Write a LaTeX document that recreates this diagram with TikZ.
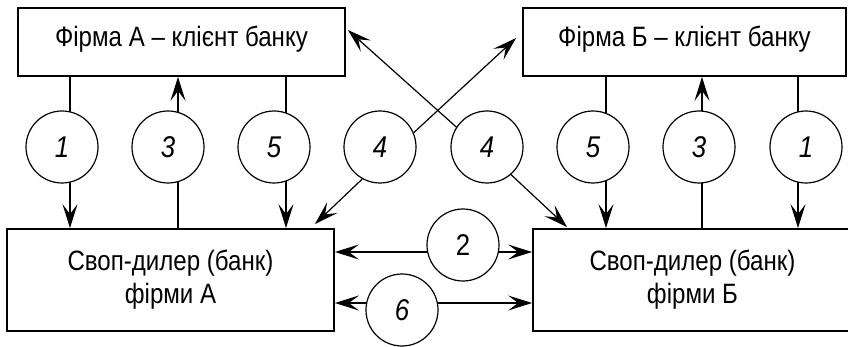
\documentclass[tikz,border=0pt]{standalone}
\usepackage{fontspec}
\setmainfont{Liberation Sans}[FakeStretch=0.86]
\usepackage{tikz}
\usetikzlibrary{arrows.meta}
\usetikzlibrary{positioning}
\tikzstyle{firm}=[draw,rectangle,line width=1.8pt,inner sep=0pt,align=center,font=\fontsize{28}{33}\selectfont]
\tikzstyle{num}=[draw,fill=white,circle,minimum size=72pt,inner sep=0pt,font=\fontsize{30}{30}\selectfont\itshape]

\begin{document}
\begin{tikzpicture}[x=1pt,y=-1pt,line width=1.2pt,>={Stealth[length=24pt,width=15pt,inset=10pt]}]
\useasboundingbox (0,0) rectangle (848,347);
% clients on top, dealers below
\node [firm,minimum width=327pt,minimum height=68pt,text depth=12pt] (fa) at (181.5,42) {Фірма А – клієнт банку};
\node [firm,minimum width=323pt,minimum height=68pt,text depth=12pt] (fb) at (684.5,42) {Фірма Б – клієнт банку};
\node [firm,minimum width=327pt,minimum height=102pt] (da) at (170.5,280) {Своп-дилер (банк)\\фірми А};
\node [firm,minimum width=319pt,minimum height=102pt] (db) at (692.5,280) {Своп-дилер (банк)\\фірми Б};

% where the vertical flows run
\coordinate (la1) at (70,0);
\coordinate (la3) at (178,0);
\coordinate (la5) at (286,0);
\coordinate (lb5) at (606,0);
\coordinate (lb3) at (702,0);
\coordinate (lb1) at (798,0);

\draw[->] (fa.south -| la1) -- (da.north -| la1);
\draw[<-] (fa.south -| la3) -- (da.north -| la3);
\draw[->] (fa.south -| la5) -- (da.north -| la5);
\draw[->] (fb.south -| lb5) -- (db.north -| lb5);
\draw[<-] (fb.south -| lb3) -- (db.north -| lb3);
\draw[->] (fb.south -| lb1) -- (db.north -| lb1);

% between the two dealers
\draw[<->] ([yshift=28pt]da.east) -- ([yshift=28pt]db.west);
\draw[<->] ([yshift=-23pt]da.east) -- ([yshift=-23pt]db.west);

% step numbers
\node [num] (a1) at (62,147) {1};
\node [num] (a3) at (168,147) {3};
\node [num] (a5) at (274,147) {5};
\node [num] (c4a) at (380,147) {4};
\node [num] (c4b) at (487,147) {4};
\node [num] (b5) at (593,147) {5};
\node [num] (b3) at (699,147) {3};
\node [num] (b1) at (806,147) {1};
\node [num,font=\fontsize{30}{30}\selectfont] (c2) at (463,245) {2};
\node [num] (c6) at (402,310) {6};

% crossing flows
\draw[->] (c4a.23) -- ([xshift=-6pt,yshift=4pt]fb.west);
\draw[->] (c4b.147) -- ([xshift=2pt,yshift=12pt]fa.east);
\draw[->] (c4a.241) -- ([xshift=-20pt,yshift=4pt]da.north east);
\draw[->] (c4b.311) -- ([xshift=35pt,yshift=1pt]db.north west);
\end{tikzpicture}
\end{document}
